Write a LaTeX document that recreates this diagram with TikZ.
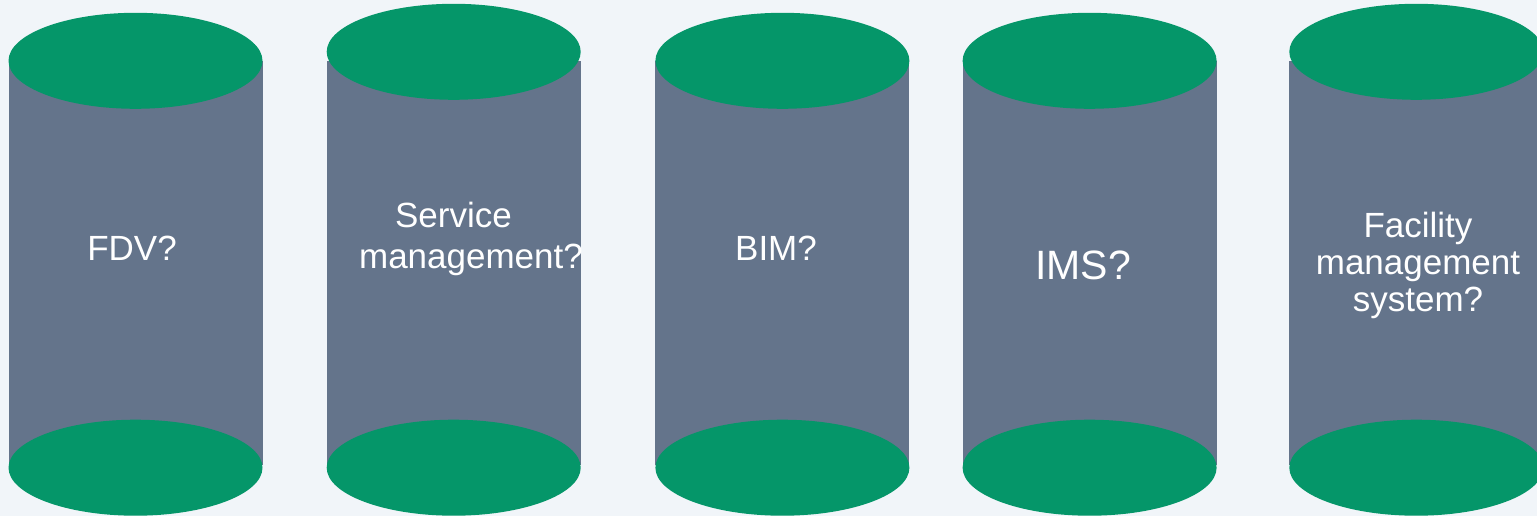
\documentclass[tikz,border=0pt]{standalone}
\usepackage{fontspec}
\setmainfont{Liberation Sans}
\usetikzlibrary{shapes.geometric,positioning}
\definecolor{pagebg}{HTML}{F1F5F9}
\definecolor{bodygray}{HTML}{64748B}
\definecolor{capgreen}{HTML}{059669}

\begin{document}
\begin{tikzpicture}[
    x=1pt, y=-1pt,
    every node/.style={align=center},
    body/.style={rectangle, minimum width=254pt, minimum height=404pt, inner sep=0pt, fill=bodygray},
    capoval/.style={ellipse, minimum width=254pt, minimum height=96pt, inner sep=0pt, fill=capgreen},
    cyltext/.style={text=white, inner sep=0pt, font=\fontsize{35}{41}\selectfont}
]

% Page
\fill[pagebg] (0,0) rectangle (1537,516);
\useasboundingbox (0,0) rectangle (1537,516);

% Cylinder bodies
\node[body] (fdv_body) at (135.5,263) {};
\node[body] (service_body) at (453.7,263) {};
\node[body] (bim_body) at (782.4,263) {};
\node[body] (ims_body) at (1089.6,263) {};
\node[body] (facility_body) at (1416.3,263) {};

% Top caps
\node[capoval] (fdv_top) at (fdv_body.north) {};
\node[capoval, yshift=9pt] (service_top) at (service_body.north) {};
\node[capoval] (bim_top) at (bim_body.north) {};
\node[capoval] (ims_top) at (ims_body.north) {};
\node[capoval, yshift=9pt] (facility_top) at (facility_body.north) {};

% Bottom caps
\node[capoval, yshift=-2.5pt] (fdv_bottom) at (fdv_body.south) {};
\node[capoval, yshift=-2.5pt] (service_bottom) at (service_body.south) {};
\node[capoval, yshift=-2.5pt] (bim_bottom) at (bim_body.south) {};
\node[capoval, yshift=-2.5pt] (ims_bottom) at (ims_body.south) {};
\node[capoval, yshift=-2.5pt] (facility_bottom) at (facility_body.south) {};

% Labels
\node[cyltext] (fdv_text) at (132,248) {FDV?};
\node[cyltext, align=left] (service_text) at (471,239) {\hspace*{36pt}Service\\management?};
\node[cyltext] (bim_text) at (776,248) {BIM?};
\node[cyltext, font=\fontsize{41}{48}\selectfont] (ims_text) at (1083,265) {IMS?};
\node[cyltext, font=\fontsize{35}{37}\selectfont] (facility_text) at (1418,265) {Facility\\management\\system?};

\end{tikzpicture}
\end{document}
